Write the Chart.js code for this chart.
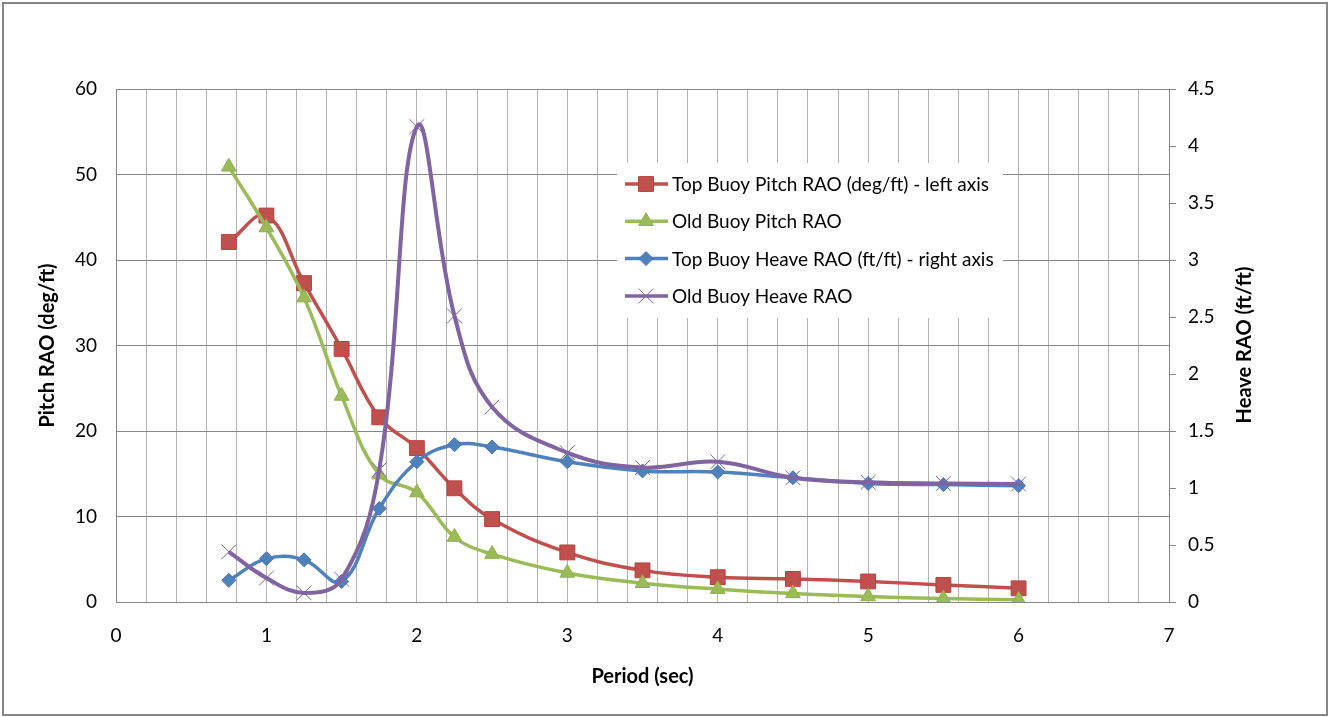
<!DOCTYPE html>
<html>
<head>
<meta charset="utf-8">
<script src="https://cdn.jsdelivr.net/npm/chart.js@4.4.1/dist/chart.umd.min.js"></script>
<style>
  body { margin: 0; background: #fff; }
  #wrap { width: 1330px; height: 717px; }
</style>
</head>
<body>
<div id="wrap"><canvas id="raoChart" width="1330" height="717"></canvas></div>
<script>
const periods = [0.75, 1, 1.25, 1.5, 1.75, 2, 2.25, 2.5, 3, 3.5, 4, 4.5, 5, 5.5, 6];
const topPitch = [42.1, 45.2, 37.3, 29.6, 21.6, 18.0, 13.3, 9.7, 5.8, 3.7, 2.9, 2.7, 2.4, 2.0, 1.6];
const oldPitch = [50.9, 43.8, 35.6, 24.1, 14.9, 12.8, 7.6, 5.6, 3.4, 2.2, 1.5, 1.0, 0.65, 0.4, 0.25];
const topHeave = [0.19, 0.38, 0.37, 0.18, 0.82, 1.23, 1.38, 1.36, 1.23, 1.15, 1.14, 1.09, 1.04, 1.03, 1.02];
const oldHeave = [0.44, 0.21, 0.08, 0.2, 1.16, 4.17, 2.51, 1.71, 1.31, 1.18, 1.23, 1.09, 1.05, 1.04, 1.035];

const seriesNames = [
  'Top Buoy Pitch RAO (deg/ft) - left axis',
  'Old Buoy Pitch RAO',
  'Top Buoy Heave RAO (ft/ft) - right axis',
  'Old Buoy Heave RAO'
];

const toPoints = vals => vals.map((v, i) => ({ x: periods[i], y: v }));

Chart.defaults.font.family = 'Lato, "Open Sans", sans-serif';
Chart.defaults.color = '#000';

// white page + grey outer frame like the Excel chart
const frame = {
  id: 'frame',
  beforeDraw(chart) {
    const c = chart.ctx;
    c.save();
    c.fillStyle = '#fff';
    c.fillRect(0, 0, chart.width, chart.height);
    c.restore();
  },
  afterDraw(chart) {
    const c = chart.ctx;
    c.save();
    c.strokeStyle = '#868686';
    c.lineWidth = 2;
    c.strokeRect(3, 3, chart.width - 6, chart.height - 5);
    c.restore();
  }
};

// legend box sitting inside the plot area
const innerLegend = {
  id: 'innerLegend',
  afterDraw(chart) {
    const c = chart.ctx;
    c.save();
    c.fillStyle = '#fff';
    c.fillRect(617, 163, 386, 155);
    chart.data.datasets.forEach((ds, i) => {
      const y = 184 + i * 37.3;
      c.strokeStyle = ds.borderColor;
      c.lineWidth = 3.5;
      c.beginPath();
      c.moveTo(625, y);
      c.lineTo(668, y);
      c.stroke();
      c.fillStyle = ds.pointBackgroundColor;
      c.strokeStyle = ds.pointBorderColor;
      c.lineWidth = ds.pointBorderWidth;
      Chart.helpers.drawPoint(c, { pointStyle: ds.pointStyle, radius: ds.pointRadius, borderWidth: ds.pointBorderWidth, rotation: 0 }, 646, y);
      c.fillStyle = '#000';
      c.font = '19px Lato, "Open Sans", sans-serif';
      c.textBaseline = 'middle';
      c.textAlign = 'left';
      c.fillText(ds.label, 672, y + 1);
    });
    // right axis title, reads bottom to top
    c.translate(1245, 345);
    c.rotate(-Math.PI / 2);
    c.font = 'bold 20px Lato, "Open Sans", sans-serif';
    c.textAlign = 'center';
    c.textBaseline = 'middle';
    c.fillText('Heave RAO (ft/ft)', 0, 0);
    c.restore();
  }
};

const ctx = document.getElementById('raoChart').getContext('2d');

new Chart(ctx, {
  type: 'line',
  data: {
    datasets: [
      {
        label: seriesNames[0],
        data: toPoints(topPitch),
        yAxisID: 'y',
        borderColor: '#C0504D',
        pointBackgroundColor: '#C0504D',
        pointBorderColor: '#B8403D',
        pointBorderWidth: 1,
        pointStyle: 'rect',
        pointRadius: 10.5,
        borderWidth: 3.5,
        tension: 0.4,
        order: 3
      },
      {
        label: seriesNames[1],
        data: toPoints(oldPitch),
        yAxisID: 'y',
        borderColor: '#9BBB59',
        pointBackgroundColor: '#9BBB59',
        pointBorderColor: '#8FB04C',
        pointBorderWidth: 1,
        pointStyle: 'triangle',
        pointRadius: 8.5,
        borderWidth: 3.5,
        tension: 0.4,
        order: 2
      },
      {
        label: seriesNames[2],
        data: toPoints(topHeave),
        yAxisID: 'y1',
        borderColor: '#4F81BD',
        pointBackgroundColor: '#4F81BD',
        pointBorderColor: '#4675B0',
        pointBorderWidth: 1,
        pointStyle: 'rectRot',
        pointRadius: 7,
        borderWidth: 3.5,
        tension: 0.4,
        order: 1
      },
      {
        label: seriesNames[3],
        data: toPoints(oldHeave),
        yAxisID: 'y1',
        borderColor: '#8064A2',
        pointBackgroundColor: '#8064A2',
        pointBorderColor: '#8064A2',
        pointBorderWidth: 1,
        pointStyle: 'crossRot',
        pointRadius: 10.5,
        borderWidth: 4,
        tension: 0.4,
        order: 0
      }
    ]
  },
  options: {
    responsive: false,
    animation: false,
    devicePixelRatio: 1,
    layout: { padding: { top: 89, left: 0, right: 0, bottom: 0 } },
    plugins: {
      legend: { display: false },
      tooltip: { enabled: false }
    },
    scales: {
      x: {
        type: 'linear',
        min: 0,
        max: 7,
        afterFit: s => { s.height = 115; },
        ticks: {
          stepSize: 0.2,
          autoSkip: false,
          maxRotation: 0,
          padding: 22,
          font: { size: 19 },
          callback: v => Math.abs(v - Math.round(v)) < 1e-6 ? String(Math.round(v)) : ''
        },
        grid: { color: '#b2b2b2', drawTicks: false },
        border: { color: '#868686', width: 1 },
        title: {
          display: true,
          text: 'Period (sec)',
          font: { size: 20, weight: 'bold' },
          padding: { top: 0, bottom: 28 }
        }
      },
      y: {
        position: 'left',
        min: 0,
        max: 60,
        afterFit: s => { s.width = 116; },
        ticks: {
          stepSize: 10,
          padding: 19,
          font: { size: 19 },
          callback: v => String(v)
        },
        grid: { color: '#868686', drawTicks: false },
        border: { color: '#868686', width: 1 },
        title: {
          display: true,
          text: 'Pitch RAO (deg/ft)',
          font: { size: 20, weight: 'bold' },
          padding: { top: 36, bottom: 0 }
        }
      },
      y1: {
        position: 'right',
        min: 0,
        max: 4.5,
        afterFit: s => { s.width = 161; },
        ticks: {
          stepSize: 0.5,
          padding: 12,
          font: { size: 19 },
          callback: v => String(Math.round(v * 10) / 10)
        },
        grid: { drawOnChartArea: false, color: '#868686', tickLength: 7 },
        border: { color: '#868686', width: 1 }
      }
    }
  },
  plugins: [frame, innerLegend]
});
</script>
</body>
</html>
